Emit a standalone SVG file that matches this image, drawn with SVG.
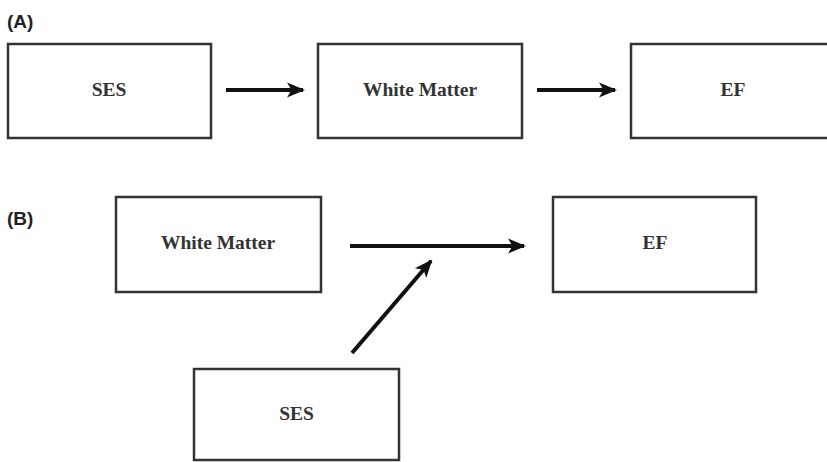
<svg xmlns="http://www.w3.org/2000/svg" width="827" height="462" viewBox="0 0 827 462">
<style>
.box{fill:#fff;stroke:#333;stroke-width:2.5}
.lbl{font-family:"Liberation Serif",serif;font-weight:bold;font-size:19.5px;fill:#333;text-anchor:middle}
.panel{font-family:"Liberation Sans",Arial,sans-serif;font-weight:bold;font-size:19px;fill:#222}
.arr{stroke:#111;stroke-width:4;fill:none;marker-end:url(#ah)}
</style>
<defs>
<marker id="ah" markerUnits="userSpaceOnUse" markerWidth="18" markerHeight="18" viewBox="0 0 18 18" refX="16" refY="9" orient="auto">
<path d="M0,1.5 L18,9 L0,16.5 L4.5,9 Z" fill="#111"/>
</marker>
</defs>
<rect width="827" height="462" fill="#fff"/>
<text class="panel" x="7" y="28">(A)</text>
<text class="panel" x="7" y="225">(B)</text>
<g id="a-ses"><rect class="box" x="8" y="44" width="203" height="94"/><text class="lbl" x="109" y="96">SES</text></g>
<g id="a-wm"><rect class="box" x="318" y="44" width="204" height="94"/><text class="lbl" x="420" y="96">White Matter</text></g>
<g id="a-ef"><rect class="box" x="631" y="44" width="210" height="94"/><text class="lbl" x="733" y="96">EF</text></g>
<g id="b-wm"><rect class="box" x="116" y="197" width="205" height="95"/><text class="lbl" x="218" y="249">White Matter</text></g>
<g id="b-ef"><rect class="box" x="553" y="197" width="203" height="95"/><text class="lbl" x="655" y="249">EF</text></g>
<g id="b-ses"><rect class="box" x="194" y="369" width="205" height="91"/><text class="lbl" x="296.5" y="420">SES</text></g>
<g id="connectors">
<line class="arr" x1="226" y1="90" x2="303" y2="90"/>
<line class="arr" x1="537" y1="90" x2="615" y2="90"/>
<line class="arr" x1="350" y1="246" x2="524" y2="246"/>
<line class="arr" x1="352" y1="353" x2="431" y2="261"/>
</g>
</svg>
